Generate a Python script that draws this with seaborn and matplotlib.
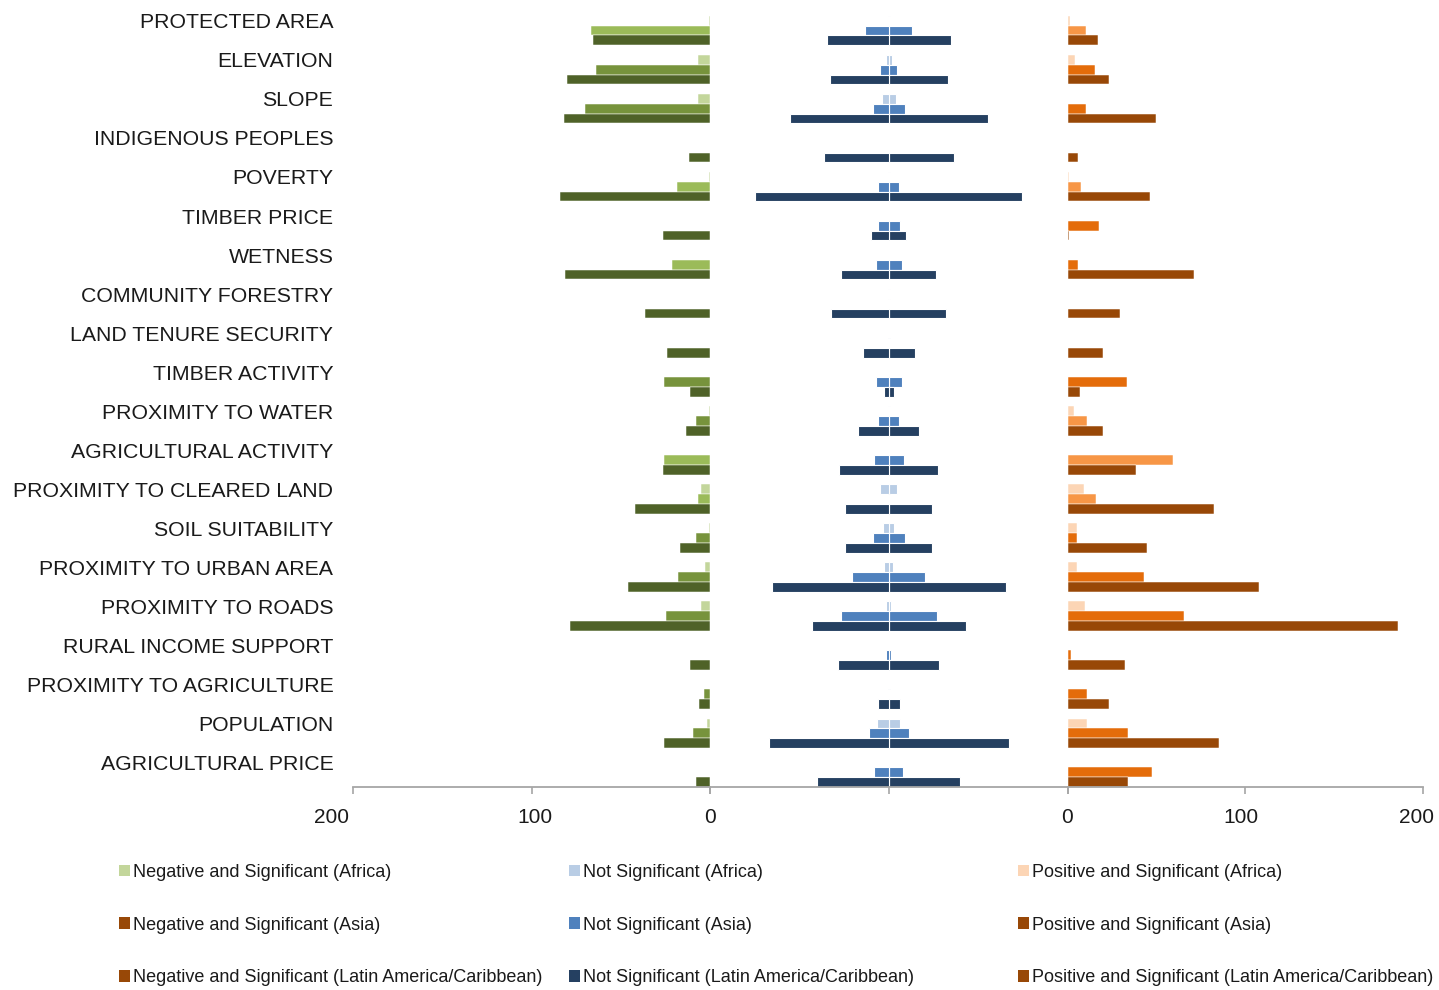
import numpy as np
import pandas as pd
import matplotlib
matplotlib.use("Agg")
import matplotlib.pyplot as plt
from matplotlib.patches import Patch
from matplotlib import font_manager
from matplotlib.transforms import ScaledTranslation
import seaborn as sns

# ---------------- data ----------------
categories = ["PROTECTED AREA", "ELEVATION", "SLOPE", "INDIGENOUS PEOPLES", "POVERTY",
              "TIMBER PRICE", "WETNESS", "COMMUNITY FORESTRY", "LAND TENURE SECURITY",
              "TIMBER ACTIVITY", "PROXIMITY TO WATER", "AGRICULTURAL ACTIVITY",
              "PROXIMITY TO CLEARED LAND", "SOIL SUITABILITY", "PROXIMITY TO URBAN AREA",
              "PROXIMITY TO ROADS", "RURAL INCOME SUPPORT", "PROXIMITY TO AGRICULTURE",
              "POPULATION", "AGRICULTURAL PRICE"]
regions = ["Africa", "Asia", "Latin America/Caribbean"]

neg_africa = [0.7, 6.7, 6.7, 0, 0.7, 0, 0, 0, 0, 0, 0.7, 0, 5.0, 0.7, 2.6, 5.0, 0, 0, 1.7, 0]
neg_asia = [66.6, 63.9, 69.9, 0, 18.7, 0, 21.3, 0, 0, 25.6, 7.7, 25.6, 6.7, 7.7, 17.9, 24.7, 0, 3.4, 9.3, 0]
neg_latam = [65.6, 80.2, 81.9, 12.0, 84.3, 26.4, 81.1, 36.6, 23.9, 11.0, 13.6, 26.4, 41.9, 17.0,
             46.2, 78.3, 11.0, 6.0, 25.6, 7.7]

ns_africa = [1.0, 3.4, 7.9, 0, 1.0, 0, 0, 1.0, 0, 0, 1.0, 0, 9.5, 6.0, 5.2, 2.8, 0, 0, 12.9, 0]
ns_asia = [26.5, 9.5, 17.9, 0, 11.6, 12.3, 14.6, 0, 1.0, 14.6, 12.0, 16.8, 1.0, 17.9, 40.9, 53.8,
           2.8, 1.0, 22.2, 16.3]
ns_latam = [69.4, 65.8, 111.0, 72.5, 149.6, 19.6, 52.9, 64.1, 29.0, 5.8, 34.2, 55.5, 48.8, 48.8,
            130.7, 86.4, 56.3, 12.2, 134.0, 80.2]

pos_africa = [1.5, 4.1, 0, 0, 1.0, 0, 0.5, 0, 0, 0, 3.4, 0.5, 9.4, 5.1, 5.1, 10.1, 0, 0, 11.1, 0]
pos_asia = [10.3, 15.4, 10.3, 0, 7.7, 18.0, 6.0, 0, 0, 33.4, 11.1, 59.1, 16.1, 5.1, 42.8, 65.8,
            1.7, 11.1, 34.3, 47.8]
pos_latam = [17.1, 23.3, 49.7, 6.0, 46.3, 0.9, 71.1, 29.3, 19.7, 6.8, 19.7, 38.5, 82.2, 44.5,
             107.9, 186.1, 32.6, 23.1, 85.5, 34.0]

x_ticks = [200, 100, 0]

legend_labels_neg = ["Negative and Significant (Africa)", "Negative and Significant (Asia)",
                     "Negative and Significant (Latin America/Caribbean)"]
legend_labels_ns = ["Not Significant (Africa)", "Not Significant (Asia)",
                    "Not Significant (Latin America/Caribbean)"]
legend_labels_pos = ["Positive and Significant (Africa)", "Positive and Significant (Asia)",
                     "Positive and Significant (Latin America/Caribbean)"]

# ---------------- styles ----------------
neg_colors = ["#C3D69B", "#77933C", "#4F6228"]
ns_colors = ["#B9CDE5", "#4F81BD", "#254061"]
pos_colors = ["#FCD5B5", "#E46C0A", "#984807"]
neg_asia_alt = "#9BBB59"
pos_asia_alt = "#F79646"
neg_alt_cats = ["PROTECTED AREA", "POVERTY", "WETNESS", "AGRICULTURAL ACTIVITY", "PROXIMITY TO CLEARED LAND"]
pos_alt_cats = ["PROTECTED AREA", "POVERTY", "PROXIMITY TO WATER", "AGRICULTURAL ACTIVITY", "PROXIMITY TO CLEARED LAND"]
legend_colors_neg = ["#C3D69B", "#984807", "#984807"]
legend_colors_ns = ["#B9CDE5", "#4F81BD", "#254061"]
legend_colors_pos = ["#FCD5B5", "#984807", "#984807"]

# ---------------- data frame ----------------
n = len(categories)
df = pd.DataFrame({
    "category": categories * 3,
    "region": sum([[r] * n for r in regions], []),
    "neg": neg_africa + neg_asia + neg_latam,
    "ns": ns_africa + ns_asia + ns_latam,
    "pos": pos_africa + pos_asia + pos_latam,
})
df["ns_right"] = df["ns"] / 2.0
df["ns_left"] = -df["ns"] / 2.0

sns.set_theme(style="white")
names = {f.name for f in font_manager.fontManager.ttflist}
main_font = "Liberation Sans" if "Liberation Sans" in names else "DejaVu Sans"
legend_font = "Liberation Sans Narrow" if "Liberation Sans Narrow" in names else main_font
plt.rcParams["font.family"] = [main_font, "DejaVu Sans"]

W, H = 1439, 990
fig = plt.figure(figsize=(W / 100, H / 100), dpi=100)

y_top_px, y_bot_px = 6.0, 786.7
def make_ax(x0, x1):
    return fig.add_axes([x0 / W, 1 - y_bot_px / H, (x1 - x0) / W, (y_bot_px - y_top_px) / H])

ax_neg = make_ax(353.3, 710.0)
ax_ns = make_ax(710.0, 1067.5)
ax_pos = make_ax(1067.5, 1423.0)

common = dict(data=df, y="category", hue="region", order=categories, hue_order=regions,
              orient="h", width=0.75, errorbar=None, legend=False, saturation=1,
              edgecolor="white", linewidth=0.35)

sns.barplot(x="neg", palette=neg_colors, ax=ax_neg, **common)
sns.barplot(x="ns_right", palette=ns_colors, ax=ax_ns, **common)
sns.barplot(x="ns_left", palette=ns_colors, ax=ax_ns, **common)
sns.barplot(x="pos", palette=pos_colors, ax=ax_pos, **common)

# alternate shading of some Asia bars
for ax, alt_cats, alt_col in [(ax_neg, neg_alt_cats, neg_asia_alt), (ax_pos, pos_alt_cats, pos_asia_alt)]:
    asia_bars = ax.containers[1]
    for cat, bar in zip(categories, asia_bars):
        if cat in alt_cats:
            bar.set_facecolor(alt_col)

# white split line at the centre of the "not significant" bars
for bar in ax_ns.patches:
    bar.set_linewidth(0.8)

axis_col = "#A6A6A6"
text_col = "#1a1a1a"
for ax in (ax_neg, ax_ns, ax_pos):
    ax.set_ylim(n - 1 + 0.37, -0.63)
    ax.set_xlabel("")
    ax.set_ylabel("")
    for s in ("top", "right", "left"):
        ax.spines[s].set_visible(False)
    ax.spines["bottom"].set_color(axis_col)
    ax.spines["bottom"].set_linewidth(1.3)
    ax.tick_params(axis="x", direction="out", length=5, width=1.2, color=axis_col,
                   pad=10.5, labelsize=15, labelcolor=text_col, bottom=True)
    ax.set_facecolor("none")

ax_neg.set_xlim(200, 0)
ax_neg.set_xticks(x_ticks, [str(t) for t in x_ticks])
ax_pos.set_xlim(0, 200)
ax_pos.set_xticks(x_ticks[::-1], [str(t) for t in x_ticks[::-1]])
ax_ns.set_xlim(-100, 100)
ax_ns.set_xticks([-100, 0, 100], ["", "", ""])

# small horizontal nudges of some tick labels, as in the original
def nudge(label, dx_px):
    label.set_transform(label.get_transform() + ScaledTranslation(dx_px / 100, 0, fig.dpi_scale_trans))

nlab = ax_neg.get_xticklabels()
nudge(nlab[0], -22)
nudge(nlab[1], 3)
plab = ax_pos.get_xticklabels()
nudge(plab[1], -4)
nudge(plab[2], -6)

# category labels aligned with the first (Africa) bar of each group
ax_neg.set_yticks(np.arange(n) - 0.25, categories)
ax_neg.tick_params(axis="y", length=0, pad=14.4, labelsize=15.3, labelcolor=text_col)
for ax in (ax_ns, ax_pos):
    ax.set_yticks([])

# legends: three columns
def add_legend(labels, colors, x_px):
    handles = [Patch(facecolor=c, edgecolor="none") for c in colors]
    leg = fig.legend(handles, labels, loc="upper left", bbox_to_anchor=(x_px / W, 1 - 864 / H),
                     frameon=False, ncol=1, handlelength=0.6, handleheight=0.6,
                     handletextpad=0.15, labelspacing=1.97, borderpad=0, borderaxespad=0,
                     prop={"family": legend_font, "size": 13})
    for t in leg.get_texts():
        t.set_color(text_col)
    return leg

add_legend(legend_labels_neg, legend_colors_neg, 119)
add_legend(legend_labels_ns, legend_colors_ns, 569)
add_legend(legend_labels_pos, legend_colors_pos, 1018)

fig.savefig("out.png", dpi=100, facecolor="white")
